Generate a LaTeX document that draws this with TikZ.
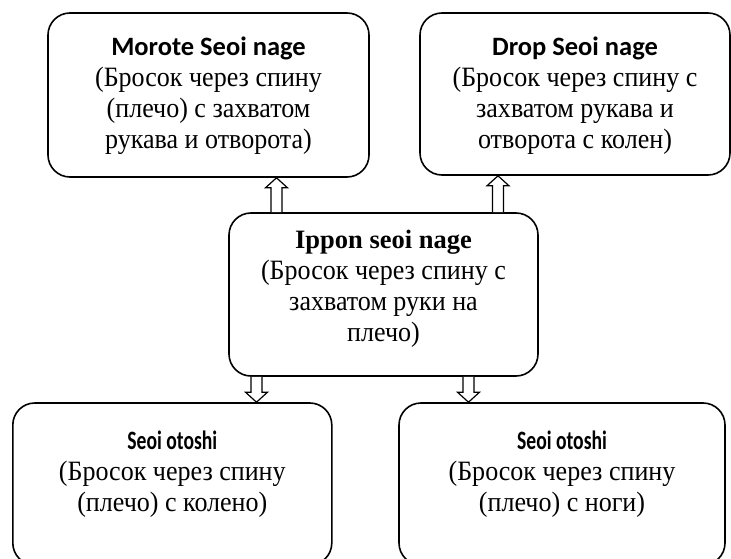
\documentclass[tikz,border=0pt]{standalone}
\usepackage{fontspec}
\setmainfont{Liberation Serif}
\newfontfamily\headfont{Carlito}
\newfontfamily\narrowhead{Carlito}[FakeStretch=0.74]
\newfontfamily\bodyfont{Liberation Serif}[FakeStretch=0.93]
\newcommand{\bodytext}{\bodyfont\fontsize{28}{31}\selectfont}
\usetikzlibrary{calc}

\tikzset{
  card/.style={draw, line width=1.6pt, rounded corners=22pt, inner sep=0pt},
  cardtext/.style={align=center, inner sep=0pt, font={\fontsize{26.5}{31}\selectfont}},
  arrowline/.style={draw, line width=1.2pt, fill=white, line join=miter},
}

% hollow block arrow from a tail point to a tip point (vertical)
\newcommand{\blockarrow}[2]{%
  \path[arrowline] let \p1=#1, \p2=#2, \n1={sign(\y2-\y1)} in
    ({\x1-5.5pt},{\y1}) -- ({\x1-5.5pt},{\y2-10pt*\n1}) --
    ({\x1-11pt},{\y2-10pt*\n1}) -- ({\x1},{\y2}) --
    ({\x1+11pt},{\y2-10pt*\n1}) -- ({\x1+5.5pt},{\y2-10pt*\n1}) --
    ({\x1+5.5pt},{\y1});%
}

\begin{document}
\begin{tikzpicture}[x=1pt, y=-1pt]
  \useasboundingbox (0,0) rectangle (731,559);
  \clip (0,0) rectangle (731,559);

  % boxes
  \node[card, minimum width=321pt, minimum height=164pt] (ml) at (208.5,95) {};
  \node[card, minimum width=310pt, minimum height=162pt] (dr) at (575,94) {};
  \node[card, minimum width=309pt, minimum height=163pt] (ip) at (383.5,294.5) {};
  \node[card, minimum width=319pt, minimum height=162pt] (sl) at (172.3,484) {};
  \node[card, minimum width=326pt, minimum height=162pt] (sr) at (562,484) {};

  % texts
  \node[cardtext] (mlt) at (208.5,96) {{\headfont\bfseries Morote Seoi nage}\\\bodytext(Бросок через спину\\\bodytext(плечо) с захватом\\\bodytext рукава и отворота)};
  \node[cardtext] (drt) at (575,96) {{\headfont\bfseries Drop Seoi nage}\\\bodytext(Бросок через спину с\\\bodytext захватом рукава и\\\bodytext отворота с колен)};
  \node[cardtext] (ipt) at (383.5,289) {{\bfseries Ippon seoi nage}\\\bodytext(Бросок через спину с\\\bodytext захватом руки на\\\bodytext плечо)};
  \node[cardtext] (slt) at (172.3,474) {{\narrowhead\bfseries Seoi otoshi}\\\bodytext(Бросок через спину\\\bodytext(плечо) с колено)};
  \node[cardtext] (srt) at (562,474) {{\narrowhead\bfseries Seoi otoshi}\\\bodytext(Бросок через спину\\\bodytext(плечо) с ноги)};

  % arrow positions
  \coordinate (upL) at (276.5,0);
  \coordinate (upR) at (498,0);
  \coordinate (dnL) at (256.5,0);
  \coordinate (dnR) at (468.5,0);

  \blockarrow{(upL |- ip.north)}{(upL |- ml.south)}
  \blockarrow{(upR |- ip.north)}{(upR |- dr.south)}
  \blockarrow{(dnL |- ip.south)}{(dnL |- sl.north)}
  \blockarrow{(dnR |- ip.south)}{(dnR |- sr.north)}
\end{tikzpicture}
\end{document}
